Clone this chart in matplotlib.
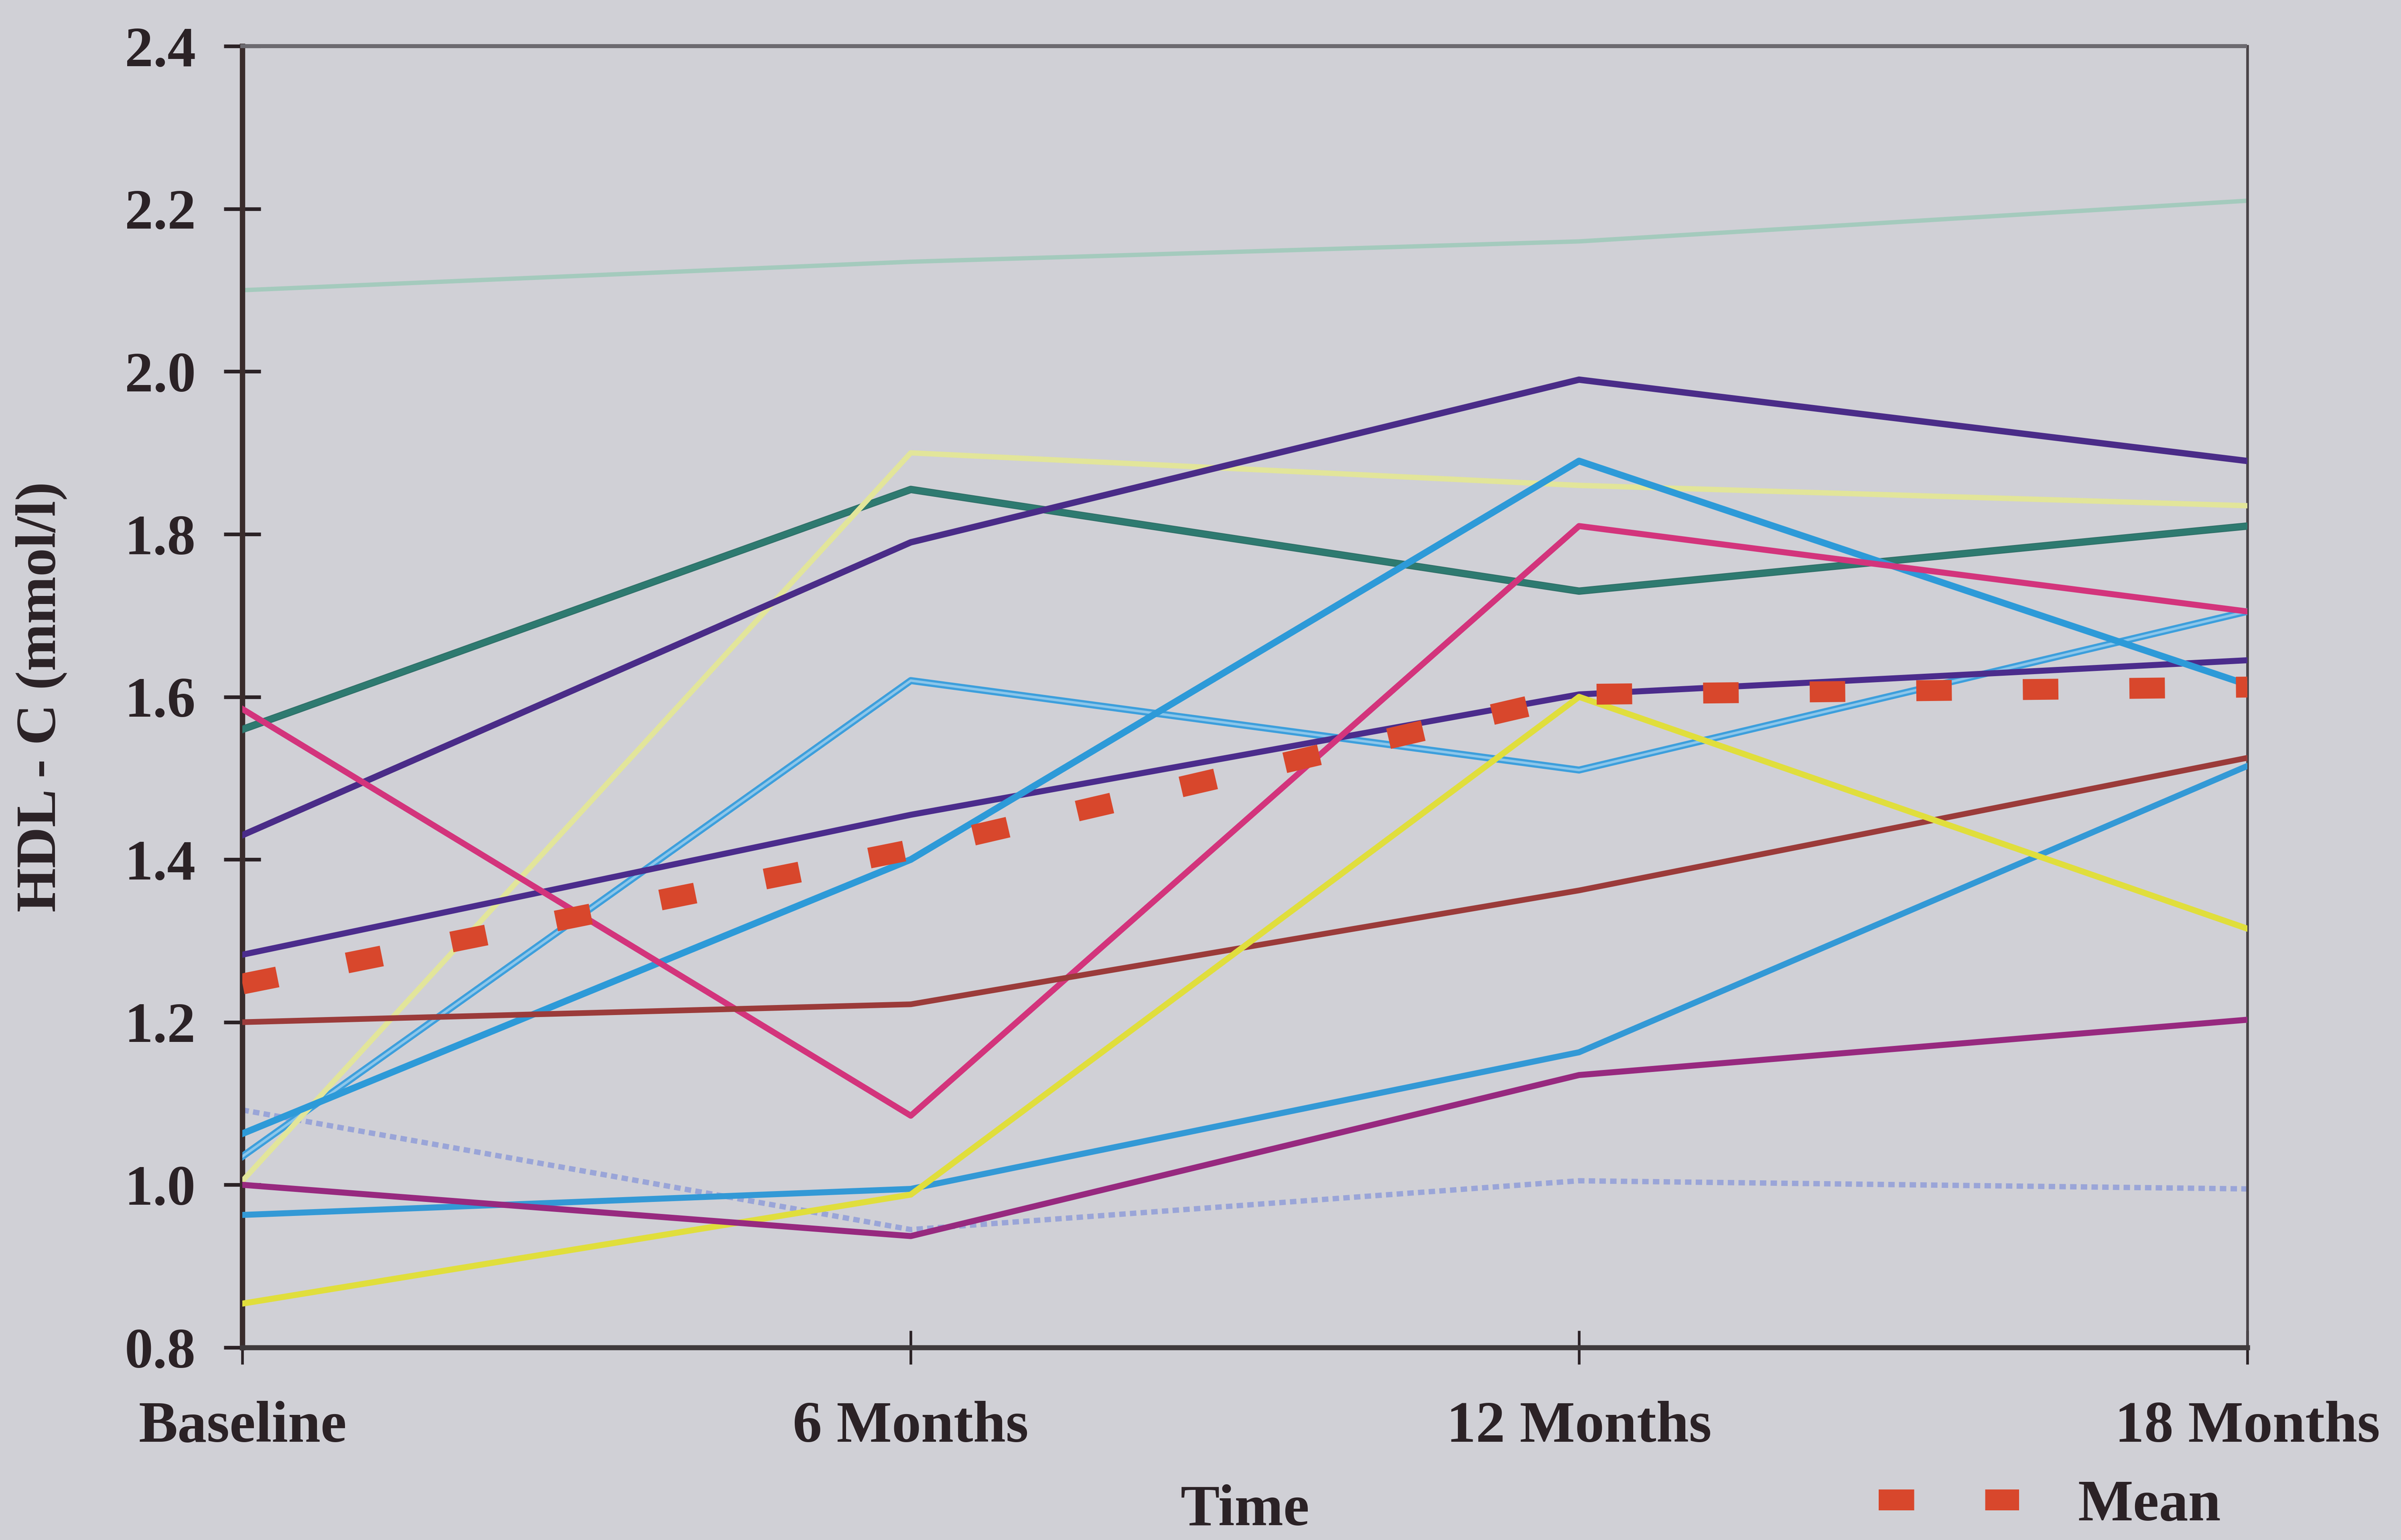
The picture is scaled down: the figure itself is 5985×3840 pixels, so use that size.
import matplotlib
matplotlib.use("Agg")
from matplotlib import pyplot as plt
from matplotlib import patheffects as pe

# HDL-C per subject over follow-up visits
visits = ["Baseline", "6 Months", "12 Months", "18 Months"]

s_green = [2.10, 2.135, 2.16, 2.21]
s_purple_a = [1.43, 1.79, 1.99, 1.89]
s_teal = [1.56, 1.855, 1.73, 1.81]
s_paleyellow = [1.005, 1.90, 1.86, 1.835]
s_blue_a = [1.063, 1.40, 1.89, 1.615]
s_magenta = [1.585, 1.085, 1.81, 1.705]
s_lightblue = [1.035, 1.62, 1.51, 1.705]
s_purple_b = [1.283, 1.455, 1.603, 1.645]
s_brown = [1.20, 1.222, 1.362, 1.525]
s_yellow = [0.854, 0.988, 1.60, 1.315]
s_blue_b = [0.963, 0.995, 1.163, 1.515]
s_plum = [1.00, 0.937, 1.135, 1.203]
s_lavender = [1.092, 0.945, 1.005, 0.995]

mean_hdl = [1.247, 1.412, 1.603, 1.612]

yticks = [0.8, 1.0, 1.2, 1.4, 1.6, 1.8, 2.0, 2.2, 2.4]

paper = '#d0d0d6'
ink = '#2b2226'
serif = ['Liberation Serif', 'DejaVu Serif']

fig = plt.figure(figsize=(19.95, 12.8), dpi=300)
fig.patch.set_facecolor(paper)
ax = fig.add_axes([0.101, 0.125, 0.835, 0.845])
ax.set_facecolor(paper)

x = list(range(len(visits)))

ax.plot(x, s_green, color='#a4cabd', lw=2.6, zorder=2)
ax.plot(x, s_lavender, color='#9aa5d8', lw=3.2, ls=(0, (1.2, 0.8)), zorder=2)
ax.plot(x, s_teal, color='#2e7a70', lw=3.4, zorder=3,
        path_effects=[pe.Stroke(linewidth=4.4, foreground='#2e6f68'), pe.Normal()])
ax.plot(x, s_lightblue, color='#8cc6ea', lw=1.5, zorder=3,
        path_effects=[pe.Stroke(linewidth=4.2, foreground='#3d9fdc'), pe.Normal()])
ax.plot(x, s_paleyellow, color='#e2e59a', lw=3.2, zorder=3)
ax.plot(x, s_purple_a, color='#4a2c88', lw=3.8, zorder=4)
ax.plot(x, s_purple_b, color='#4b2c8c', lw=3.6, zorder=4)
ax.plot(x, s_blue_a, color='#2d9ad8', lw=4.0, zorder=4)
ax.plot(x, s_blue_b, color='#3399d6', lw=3.6, zorder=4)
ax.plot(x, s_magenta, color='#d3347c', lw=3.6, zorder=4)
ax.plot(x, s_brown, color='#9b3b3a', lw=3.4, zorder=4)
ax.plot(x, s_yellow, color='#e0de3c', lw=3.6, zorder=4)
ax.plot(x, s_plum, color='#97297f', lw=3.6, zorder=4)

mean_line, = ax.plot(x, mean_hdl, color='#d8472c', lw=12.5, dashes=(1.7, 3.4),
                     solid_capstyle='butt', dash_capstyle='butt', zorder=6, label='Mean')

ax.set_xlim(0, 3)
ax.set_ylim(0.8, 2.4)
ax.set_xticks(x)
ax.set_xticklabels(visits)
ax.set_yticks(yticks)
ax.set_yticklabels([f"{v:.1f}" for v in yticks])

ax.tick_params(axis='y', direction='inout', length=22, width=2.2, color=ink,
               pad=17, labelsize=34, labelcolor=ink)
ax.tick_params(axis='x', direction='inout', length=20, width=1.6, color=ink,
               pad=22, labelsize=35, labelcolor=ink)
for lab in ax.get_xticklabels() + ax.get_yticklabels():
    lab.set_family(serif)
    lab.set_fontweight('bold')

ax.spines['left'].set_color('#3a2c2c')
ax.spines['left'].set_linewidth(3.2)
ax.spines['bottom'].set_color('#3f3a3c')
ax.spines['bottom'].set_linewidth(3.0)
ax.spines['top'].set_color('#6c6a70')
ax.spines['top'].set_linewidth(2.4)
ax.spines['top'].set_linestyle((0, (1.5, 0.6)))
ax.spines['right'].set_color('#4a4448')
ax.spines['right'].set_linewidth(1.6)

ax.set_xlabel("Time", fontsize=35, fontweight='bold', family=serif, color=ink, labelpad=18)
fig.text(0.0172, 0.5475, "HDL - C (mmol/l)", rotation=90, ha='center', va='center',
         fontsize=34, fontweight='bold', family=serif, color=ink)

fig.legend(handles=[mean_line], loc='center left', bbox_to_anchor=(0.7825, 0.022),
           frameon=False, borderpad=0, borderaxespad=0, handlelength=2.4,
           handletextpad=1.0, prop={'family': serif, 'weight': 'bold', 'size': 35},
           labelcolor=ink)

fig.savefig("out.png", dpi=300, facecolor=paper)
